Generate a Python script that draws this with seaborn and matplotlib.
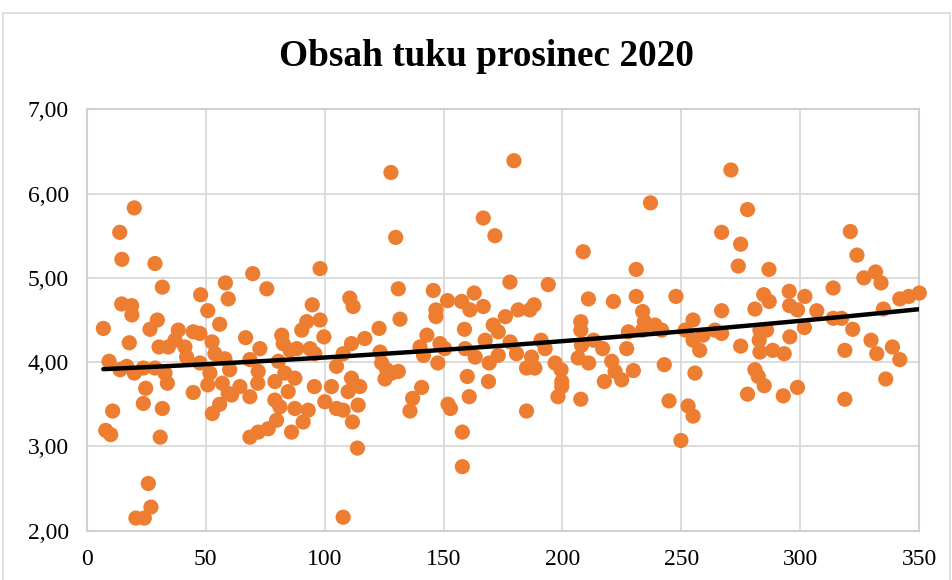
import numpy as np
import pandas as pd
import matplotlib
matplotlib.use("Agg")
import matplotlib.pyplot as plt
from matplotlib.patches import Rectangle
import seaborn as sns

# --- data (day index vs. fat content) ---
den = [
    20.0, 13.9, 14.8, 28.7, 31.8, 14.7, 18.9, 19.0, 7.0, 29.7, 26.6, 17.9, 30.4, 34.3, 38.5,
    37.1, 41.3, 44.8, 47.6, 42.0, 47.9, 50.9, 58.3, 59.5, 55.9, 52.7, 53.9, 58.1, 9.4, 14.0,
    16.8, 20.0, 23.8, 28.7, 32.9, 33.9, 24.8, 23.8, 31.8, 44.8, 47.6, 50.9, 51.8, 57.0, 55.9,
    52.8, 59.5, 10.9, 8.0, 10.1, 30.9, 25.9, 27.0, 20.7, 24.2,
    69.8, 75.7, 98.1, 94.8, 98.1, 92.5, 90.4, 99.7, 66.8, 72.8, 82.0, 82.6, 85.5, 88.3, 93.9,
    95.9, 60.1, 68.6, 72.1, 71.9, 64.4, 60.9, 68.6, 80.6, 79.1, 83.3, 87.5, 84.7, 79.1, 81.2,
    87.5, 93.1, 91.0, 86.1, 79.8, 76.3, 72.1, 68.6, 95.7, 100.1, 102.9, 105.0, 107.8, 105.0,
    107.8, 111.3, 116.9, 111.3, 114.8, 109.9, 114.1, 111.7, 113.8, 110.6, 112.0, 107.8,
    127.9, 129.9, 131.0, 131.7, 122.9, 123.3, 124.0, 126.1, 125.4, 128.2, 131.0, 140.8, 137.0,
    135.9, 145.7, 146.8, 146.8, 143.0, 140.1, 141.6, 148.5, 150.5, 147.6, 151.7, 157.6, 161.1,
    162.9, 166.7, 158.8, 159.1, 163.3, 167.5, 169.2, 168.9, 160.0, 160.8, 151.9, 152.9, 157.9,
    157.9, 166.7, 171.6, 170.9, 173.0, 173.0, 176.0, 177.9, 179.6, 178.0,
    194.0, 181.4, 186.3, 188.1, 180.7, 184.9, 187.0, 188.4, 191.0, 192.7, 196.9, 199.4, 199.7,
    199.7, 198.1, 184.9, 208.7, 210.9, 207.7, 207.7, 208.0, 206.6, 211.0, 213.1, 216.9, 207.7,
    217.6, 221.4, 220.7, 222.1, 224.9, 229.8, 227.0, 227.7, 231.0, 231.0, 233.7, 234.4, 237.0,
    233.7,
    238.9, 241.7, 247.7, 242.8, 244.8, 249.8, 252.8, 254.9, 255.7, 254.9, 251.6, 254.9, 257.7,
    259.1, 266.9, 270.8, 277.8, 274.9, 273.9, 286.8, 266.9, 264.1, 266.9, 274.9, 280.9, 284.6,
    286.9, 283.0, 285.8, 282.7, 283.0, 288.4, 293.2, 280.9, 282.3, 284.8, 277.8, 292.8, 295.3,
    295.5, 295.6,
    298.8, 301.9, 301.7, 298.8, 306.9, 313.8, 313.8, 317.3, 318.7, 318.7, 322.0, 321.0, 323.8,
    326.7, 331.6, 333.9, 329.7, 332.1, 334.9, 335.9, 338.7, 341.8, 341.8, 345.6, 350.0,
]
obsah_tuku = [
    5.83, 5.54, 5.22, 5.17, 4.89, 4.69, 4.67, 4.56, 4.40, 4.50, 4.39, 4.23, 4.18, 4.18, 4.38,
    4.26, 4.18, 4.36, 4.34, 4.06, 4.80, 4.61, 4.94, 4.75, 4.45, 4.24, 4.10, 4.04, 4.01, 3.91,
    3.95, 3.87, 3.93, 3.93, 3.87, 3.75, 3.69, 3.51, 3.45, 3.64, 3.99, 3.73, 3.87, 3.75, 3.50,
    3.39, 3.63, 3.42, 3.19, 3.14, 3.11, 2.56, 2.28, 2.15, 2.15,
    5.05, 4.87, 5.11, 4.68, 4.50, 4.48, 4.38, 4.30, 4.29, 4.16, 4.32, 4.22, 4.14, 4.16, 4.16,
    4.10, 3.91, 4.03, 3.89, 3.75, 3.71, 3.61, 3.59, 4.01, 3.77, 3.87, 3.81, 3.65, 3.55, 3.47,
    3.45, 3.43, 3.29, 3.17, 3.31, 3.21, 3.17, 3.11, 3.71, 3.53, 3.71, 3.45, 3.43, 3.95,
    4.10, 4.22, 4.28, 3.81, 3.71, 3.65, 3.49, 3.29, 2.98, 4.76, 4.66, 2.16,
    6.25, 5.48, 4.87, 4.51, 4.40, 4.12, 3.99, 3.91, 3.80, 3.87, 3.89, 3.70, 3.57,
    3.42, 4.85, 4.62, 4.54, 4.32, 4.18, 4.08, 4.22, 4.16, 3.99, 4.73, 4.72, 4.62,
    4.82, 4.66, 4.39, 4.16, 4.06, 4.26, 3.99, 3.77, 3.83, 3.59, 3.50, 3.45, 3.17,
    2.76, 5.71, 5.50, 4.44, 4.36, 4.08, 4.54, 4.95, 6.39, 4.24,
    4.92, 4.62, 4.62, 4.68, 4.10, 3.93, 4.06, 3.93, 4.26, 4.16, 3.99, 3.91, 3.77,
    3.71, 3.59, 3.42, 5.31, 4.75, 4.48, 4.38, 4.20, 4.05, 3.99, 4.26, 4.16, 3.56,
    3.77, 4.72, 4.01, 3.89, 3.79, 3.90, 4.16, 4.36, 5.10, 4.78, 4.60, 4.48, 5.89,
    4.38,
    4.44, 4.38, 4.78, 3.97, 3.54, 3.07, 3.48, 3.36, 3.87, 4.50, 4.38, 4.26, 4.14,
    4.32, 5.54, 6.28, 5.81, 5.40, 5.14, 5.10, 4.61, 4.38, 4.34, 4.19, 4.63, 4.80,
    4.72, 4.38, 4.38, 4.26, 4.12, 4.14, 4.10, 3.91, 3.83, 3.72, 3.62, 3.60, 4.84,
    4.67, 4.30,
    4.62, 4.78, 4.41, 3.70, 4.61, 4.88, 4.52, 4.52, 4.14, 3.56, 4.39, 5.55, 5.27,
    5.00, 5.07, 4.94, 4.26, 4.10, 4.63, 3.80, 4.18, 4.03, 4.75, 4.78, 4.82,
]

x_ticks = [0, 50, 100, 150, 200, 250, 300, 350]
y_ticks = [2, 3, 4, 5, 6, 7]
y_tick_labels = ["2,00", "3,00", "4,00", "5,00", "6,00", "7,00"]
title = "Obsah tuku prosinec 2020"

df = pd.DataFrame({"den": den, "obsah": obsah_tuku})

sns.set_theme(style="whitegrid")
plt.rcParams["font.family"] = ["Liberation Serif", "DejaVu Serif"]

W, H = 952, 580
fig = plt.figure(figsize=(W / 100, H / 100), dpi=100)
fig.patch.set_facecolor("white")

# outer chart border
fig.patches.append(Rectangle((3 / W, -0.05), 947 / W, 1.05 - 13 / H,
                             transform=fig.transFigure, fill=False,
                             edgecolor="#d9d9d9", linewidth=1.2))

l, r, t, b = 86.7, 919.3, 109.3, 530.7
ax = fig.add_axes([l / W, 1 - b / H, (r - l) / W, (b - t) / H])
ax.set_facecolor("white")

sns.scatterplot(data=df, x="den", y="obsah", ax=ax, color="#ED7D31",
                s=120, edgecolor="none", linewidth=0, clip_on=False, zorder=3)
# polynomial trend line
sns.regplot(data=df, x="den", y="obsah", ax=ax, scatter=False, order=2, ci=None,
            line_kws={"color": "black", "linewidth": 3.2, "zorder": 4})

ax.set_xlim(0, 350)
ax.set_ylim(2, 7)
ax.set_xticks(x_ticks)
ax.set_xticklabels([str(v) for v in x_ticks])
ax.set_yticks(y_ticks)
ax.set_yticklabels(y_tick_labels)
ax.set_xlabel("")
ax.set_ylabel("")
ax.grid(True, color="#d9d9d9", linewidth=1.3)
for sp in ax.spines.values():
    sp.set_color("#d0d0d0")
    sp.set_linewidth(1.5)
ax.tick_params(axis="both", length=0, labelsize=17, colors="black")
ax.tick_params(axis="x", pad=13)
ax.tick_params(axis="y", pad=13)

fig.text(486.5 / W, 1 - 57 / H, title, ha="center", va="center",
         fontsize=26.8, fontweight="bold", color="black")

fig.savefig("out.png", dpi=100, facecolor="white")
